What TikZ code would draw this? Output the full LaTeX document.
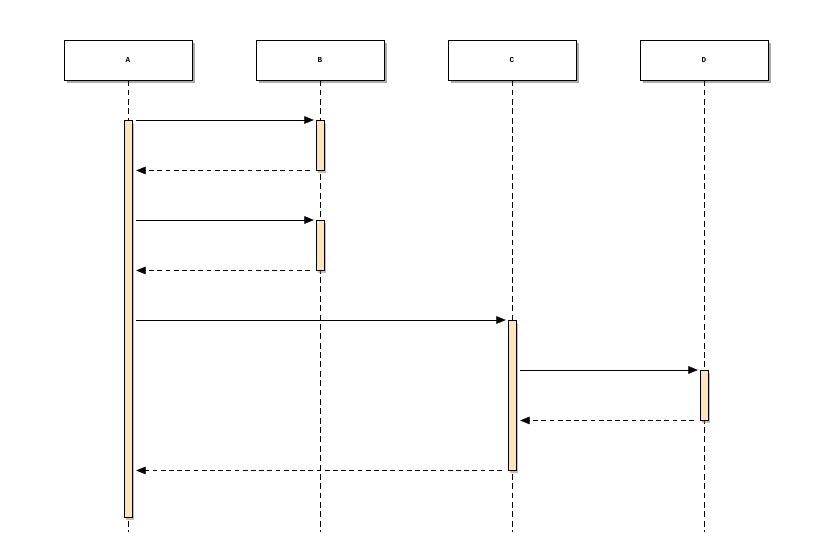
\documentclass[tikz,border=0pt]{standalone}
\usepackage{fontspec}
\setmonofont{Liberation Mono}
\usepackage{xcolor}
\usetikzlibrary{arrows.meta, positioning, shadows}

\definecolor{barfill}{HTML}{FDE4BA}

\begin{document}
\begin{tikzpicture}[x=0.03cm, y=-0.03cm,
  actor/.style={draw, fill=white, thin, minimum width=3.84cm, minimum height=1.2cm,
    font=\ttfamily\bfseries\fontsize{6.5}{7}\selectfont,
    drop shadow={shadow xshift=0.1cm, shadow yshift=-0.1cm, fill=black!55, opacity=0.6}},
  bar/.style={draw, fill=barfill, thin, minimum width=0.24cm, inner sep=0pt, anchor=north,
    drop shadow={shadow xshift=0.07cm, shadow yshift=-0.07cm, fill=black!50, opacity=0.5}},
  lifeline/.style={thin, dash pattern=on 5pt off 3pt},
  call/.style={thin, -{Triangle[length=8pt, width=6.5pt]}, shorten <=0.12cm, shorten >=0.06cm},
  reply/.style={thin, dash pattern=on 4pt off 3pt, -{Triangle[length=8pt, width=6.5pt]}, shorten <=0.18cm, shorten >=0.12cm}]
\useasboundingbox (0,0) rectangle (832,544);

% participants
\node[actor] (A) at (128,60) {A};
\node[actor] (B) at (320,60) {B};
\node[actor] (C) at (512,60) {C};
\node[actor] (D) at (704,60) {D};

\foreach \p in {A,B,C,D} {
    \draw[lifeline] (\p.south) -- (\p.south |- 0,532);
}

% activations
\node[bar, minimum height=11.91cm] (barA) at (128,120) {};
\node[bar, minimum height=1.5cm] (barB1) at (320,120) {};
\node[bar, minimum height=1.5cm] (barB2) at (320,220) {};
\node[bar, minimum height=4.5cm] (barC) at (512,320) {};
\node[bar, minimum height=1.5cm] (barD) at (704,370) {};

% messages
\draw[call] (barA.east |- barB1.north) -- (barB1.north west);
\draw[reply] (barB1.south west) -- (barA.east |- barB1.south);
\draw[call] (barA.east |- barB2.north) -- (barB2.north west);
\draw[reply] (barB2.south west) -- (barA.east |- barB2.south);
\draw[call] (barA.east |- barC.north) -- (barC.north west);
\draw[call] (barC.east |- barD.north) -- (barD.north west);
\draw[reply] (barD.south west) -- (barC.east |- barD.south);
\draw[reply] (barC.south west) -- (barA.east |- barC.south);
\end{tikzpicture}
\end{document}
